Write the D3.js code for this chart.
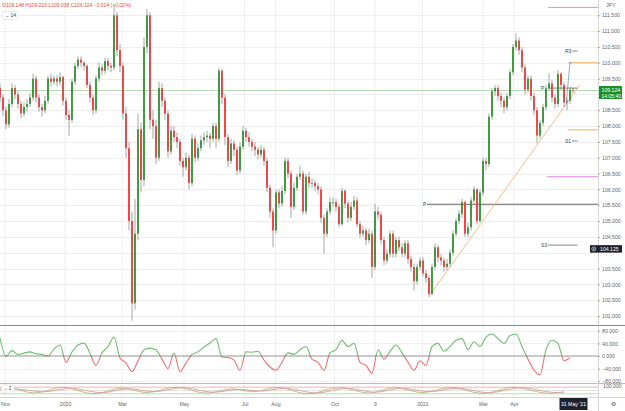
<!DOCTYPE html>
<html><head><meta charset="utf-8">
<script src="https://cdn.jsdelivr.net/npm/d3@7"></script>
<style>body{margin:0;background:#fff;} svg{display:block;font-family:"Liberation Sans",Arial,sans-serif;}</style>
</head><body><svg id="c" width="625" height="411"></svg>
<script>
// ---------- DATA ----------
const firstOpen = 109.2;
const closes = [108.90,108.50,108.05,108.70,109.20,109.00,108.70,108.40,108.60,108.70,
108.90,109.50,108.90,108.60,108.50,108.80,109.50,109.40,109.50,109.40,
109.55,108.80,108.35,108.20,109.40,109.90,110.10,110.00,109.90,109.30,
108.90,108.50,109.50,109.85,109.75,110.05,109.90,109.85,111.50,110.40,
109.90,108.40,107.30,105.00,102.40,104.60,107.90,106.30,110.50,111.50,
108.20,108.00,107.00,109.20,108.80,108.40,107.20,107.85,107.65,107.50,
106.90,106.70,107.00,106.20,107.60,107.00,107.30,107.55,107.65,107.70,
107.60,108.00,107.60,109.75,108.90,107.65,106.90,107.45,107.25,106.60,
107.35,107.85,107.65,107.50,107.35,107.25,107.10,107.25,106.90,106.05,
105.30,104.70,105.90,105.55,105.95,106.90,106.50,105.45,106.05,106.40,
106.50,105.30,106.40,106.20,106.20,106.10,106.00,105.10,104.60,105.30,
105.60,105.60,105.45,104.90,105.95,105.55,105.10,105.45,105.65,104.90,
104.60,104.70,104.40,104.60,103.55,105.30,105.20,104.40,103.75,103.97,
104.60,103.97,104.40,104.17,103.97,104.30,103.80,103.55,103.10,103.55,
103.75,103.35,103.20,102.70,103.55,104.17,103.85,103.75,103.55,103.65,
104.00,104.60,105.00,105.23,105.60,104.60,104.80,105.65,106.00,105.00,
105.90,106.90,106.80,108.30,109.10,109.20,108.95,108.80,108.60,108.95,
109.70,110.50,110.70,110.40,109.85,109.15,109.50,108.95,108.50,107.70,
108.10,108.60,109.20,109.35,108.90,108.70,109.65,109.30,108.75,108.80,
109.148,109.124];
const highs = [109.35,109.00,108.60,108.85,109.35,109.30,109.10,108.80,108.75,108.85,
109.05,109.65,109.60,109.00,108.70,108.95,109.60,109.65,109.60,109.60,
109.70,109.60,108.90,108.50,109.50,110.00,110.20,110.20,110.05,109.95,
109.40,109.00,109.60,110.00,109.95,110.15,110.15,110.00,111.85,111.60,
110.60,110.00,108.60,107.50,105.30,105.70,108.40,108.10,110.80,111.70,
111.60,108.50,108.20,109.40,109.35,108.90,108.50,108.00,108.00,107.80,
107.60,107.00,107.15,107.10,107.75,107.70,107.45,107.70,107.80,107.85,
107.80,108.10,108.10,109.85,109.80,109.00,107.75,107.60,107.55,107.35,
107.50,108.00,107.95,107.80,107.60,107.50,107.35,107.40,107.35,107.00,
106.15,105.40,106.00,106.00,106.10,107.00,107.00,106.60,106.20,106.50,
106.75,106.60,106.50,106.55,106.35,106.30,106.20,106.10,105.20,105.40,
105.75,105.75,105.70,105.55,106.05,106.00,105.65,105.60,105.80,105.75,
105.00,104.85,104.80,104.75,104.70,105.55,105.45,105.30,104.50,104.10,
104.70,104.70,104.50,104.50,104.30,104.40,104.40,103.90,103.65,103.65,
103.85,103.85,103.45,103.30,103.65,104.30,104.25,103.95,103.85,103.80,
104.10,104.70,105.10,105.35,105.70,105.65,104.95,105.75,106.10,106.05,
106.00,107.00,107.00,108.40,109.20,109.30,109.30,109.05,108.90,109.05,
109.80,110.60,110.93,110.80,110.50,109.95,109.60,109.60,109.05,108.60,
108.20,108.70,109.30,109.67,109.45,109.00,109.77,109.70,109.40,108.90,
109.25,109.21];
const lows = [108.75,108.30,107.90,107.95,108.60,108.85,108.55,108.25,108.30,108.45,
108.60,108.80,108.75,108.45,108.30,108.40,108.70,109.25,109.30,109.25,
109.30,108.65,108.20,107.70,108.10,109.30,109.80,109.85,109.75,109.20,
108.75,108.35,108.40,109.40,109.60,109.65,109.75,109.70,109.75,110.20,
109.70,108.20,107.00,104.70,101.85,102.20,104.40,105.90,106.10,110.30,
107.90,107.60,106.80,106.90,108.60,108.20,107.00,107.10,107.50,107.30,
106.75,106.40,106.60,106.00,106.10,106.85,106.90,107.20,107.40,107.50,
107.30,107.50,107.30,107.50,108.70,107.40,106.70,106.80,107.05,106.45,
106.50,107.25,107.50,107.35,107.20,107.05,106.95,107.00,106.75,105.90,
105.10,104.17,104.60,105.40,105.45,105.85,106.35,105.10,105.35,105.95,
106.30,105.20,105.20,106.05,106.05,105.95,105.85,104.95,103.97,104.50,
105.20,105.45,105.30,104.80,104.85,105.40,104.95,105.00,105.35,104.80,
104.45,104.50,104.25,104.30,103.20,103.45,105.05,104.25,103.60,103.65,
103.85,103.85,103.85,104.05,103.85,103.85,103.65,103.40,102.80,103.00,
103.45,103.25,103.05,102.60,102.65,103.45,103.70,103.60,103.40,103.45,
103.55,103.90,104.50,104.90,105.10,104.50,104.50,104.70,105.55,104.90,
104.95,105.80,106.60,106.70,108.20,108.95,108.80,108.60,108.40,108.50,
108.85,109.60,110.40,110.25,109.70,109.00,109.05,108.80,108.35,107.45,
107.60,108.00,108.50,109.10,108.75,108.55,108.60,109.15,108.60,108.50,
108.70,109.038];
// oscillator (one value every 2 candles)
const oscValues = [57,-1,17,5,9,13,7,5,0,22,35,-20,13,35,41,9,-30,10,30,60,
-6,-22,-50,-15,19,25,20,-10,-40,9,-50,-22,5,13,29,41,55,-3,-5,-13,
-45,13,12,15,-13,-35,-45,-20,10,5,20,30,-10,-20,-45,10,20,50,30,40,
-20,-30,-55,20,-10,15,35,10,-20,-45,-15,-30,30,40,15,30,50,55,20,45,
30,60,70,55,40,65,70,30,-10,-45,-60,20,50,40,-15,-5];
const osc3K = [60,80,40,20,50,85,70,30,15,45,80,60,25,40,75,85,50,20,35,70,60,30,55,85,65,25,15,50,80,70,35,20,60,85,55,25,40,75,80,45,20,30,70,85,60,30,20,40];
const osc3D = [55,65,60,40,35,60,75,55,30,30,60,70,45,35,55,80,70,40,30,50,65,50,40,65,75,50,25,30,60,75,55,30,40,70,70,45,35,55,75,65,35,25,50,75,75,50,30,30];
const priceTicks = [102.0,102.5,103.0,103.5,104.0,104.5,105.0,105.5,106.0,106.5,107.0,107.5,108.0,108.5,109.0,109.5,110.0,110.5,111.0,111.5];
const hiddenTicks = [104.0,109.0];
const oscTicks = [80,40,0,-40,-80];
const timeLabels = ["Nov","2020","Mar","May","Jul","Aug","Oct","9","2021","Mar","Apr"];
const timeIdx = [1.7,21.7,40.7,61.3,81.5,91.8,111.5,125,140.8,161,171.3];
const lastDateLabel = "31 May '21";
const pivotNames = ["R3","P","S1","S3"];
const pivotPrices = [110.37,109.2,107.53,104.24];
const pivotLabelIdx = [188.3,180.3,188.3,180.3];
const pivotEndIdx = [192.5,192.5,192.5,192.5];
const bigPivotPrice = 105.53, bigPivotIdx = 141;
const orangeLevels = [110.0,107.88];
const orangeStartIdx = [190,189.3];
const magentaLevels = [111.75,106.4];
const magentaStartIdx = [182.7,182.3];
const trendIdx = [143, 193.3];
const trendPrice = [102.62, 109.3];
const lastPrice = 109.124, lastTime = "14:05:40";
const markerPrice = 104.125;
const legendText = "O109.148 H109.210 L109.038 C109.124 −0.024 (−0.02%)";

// ---------- LAYOUT ----------
const W = 625, H = 411, plotR = 598;
const mainTop = 0, mainBot = 325, oscTop = 326, oscBot = 383, p3Top = 384, p3Bot = 397;
const svg = d3.select("#c");
const x = d3.scaleLinear().domain([0, closes.length - 1]).range([0, 573]);
const y = d3.scaleLinear().domain([101.716, 111.983]).range([mainBot, mainTop]);
const yo = d3.scaleLinear().domain([-85.7, 95.2]).range([oscBot, oscTop]);
const y3 = d3.scaleLinear().domain([0, 100]).range([p3Bot - 1, p3Top + 1]);

const defs = svg.append("defs");
defs.append("clipPath").attr("id","clipMain").append("rect").attr("x",0).attr("y",mainTop).attr("width",plotR).attr("height",mainBot-mainTop);
defs.append("clipPath").attr("id","clipUp").append("rect").attr("x",0).attr("y",oscTop).attr("width",plotR).attr("height",yo(0)-oscTop);
defs.append("clipPath").attr("id","clipDn").append("rect").attr("x",0).attr("y",yo(0)).attr("width",plotR).attr("height",oscBot-yo(0));
defs.append("clipPath").attr("id","clip3").append("rect").attr("x",0).attr("y",p3Top).attr("width",plotR).attr("height",p3Bot-p3Top);

// grid
const grid = svg.append("g");
grid.selectAll("line.v").data(timeIdx).join("line")
  .attr("x1",d=>x(d)).attr("x2",d=>x(d)).attr("y1",0).attr("y2",p3Bot)
  .attr("stroke","#eeeeee").attr("stroke-width",1);
grid.selectAll("line.h").data(priceTicks).join("line")
  .attr("x1",0).attr("x2",plotR).attr("y1",d=>Math.round(y(d))+0.5).attr("y2",d=>Math.round(y(d))+0.5)
  .attr("stroke","#eeeeee");
grid.selectAll("line.ho").data(oscTicks.filter(d=>d!==0)).join("line")
  .attr("x1",0).attr("x2",plotR).attr("y1",d=>Math.round(yo(d))+0.5).attr("y2",d=>Math.round(yo(d))+0.5)
  .attr("stroke","#f0f0f0");

// ---------- MAIN PANEL ----------
const main = svg.append("g").attr("clip-path","url(#clipMain)");
main.append("line").attr("x1",0).attr("x2",plotR).attr("y1",y(lastPrice)).attr("y2",y(lastPrice))
  .attr("stroke","#7cc47c").attr("stroke-width",0.8).attr("opacity",0.7);
main.append("line").attr("x1",x(bigPivotIdx)+4).attr("x2",plotR).attr("y1",y(bigPivotPrice)).attr("y2",y(bigPivotPrice))
  .attr("stroke","#555").attr("stroke-width",0.9);
main.append("text").attr("x",x(bigPivotIdx)).attr("y",y(bigPivotPrice)+1.8).text("P")
  .attr("font-size",5).attr("fill","#444");
main.selectAll("line.or").data(orangeLevels).join("line")
  .attr("x1",(d,i)=>x(orangeStartIdx[i])).attr("x2",plotR).attr("y1",d=>y(d)).attr("y2",d=>y(d))
  .attr("stroke","#f5a54a").attr("stroke-width",0.9);
main.selectAll("line.mg").data(magentaLevels).join("line")
  .attr("x1",(d,i)=>x(magentaStartIdx[i])).attr("x2",plotR).attr("y1",d=>y(d)).attr("y2",d=>y(d))
  .attr("stroke","#e07be0").attr("stroke-width",0.9);
main.append("line").attr("x1",x(trendIdx[0])).attr("y1",y(trendPrice[0])).attr("x2",x(trendIdx[1])).attr("y2",y(trendPrice[1]))
  .attr("stroke","#f7b27a").attr("stroke-width",0.9);

// candles
const opens = closes.map((c,i)=> i===0 ? firstOpen : closes[i-1]);
const candles = closes.map((c,i)=>({i, o:opens[i], h:highs[i], l:lows[i], c}));
main.selectAll("line.wick").data(candles).join("line")
  .attr("x1",d=>x(d.i)).attr("x2",d=>x(d.i)).attr("y1",d=>y(d.h)).attr("y2",d=>y(d.l))
  .attr("stroke","#9c9c9c").attr("stroke-width",0.9);
main.selectAll("rect.body").data(candles).join("rect")
  .attr("x",d=>x(d.i)-0.85).attr("width",1.7)
  .attr("y",d=>y(Math.max(d.o,d.c)))
  .attr("height",d=>Math.max(0.8, Math.abs(y(d.o)-y(d.c))))
  .attr("fill",d=>d.c>=d.o ? "#2a922a" : "#f23232");

pivotNames.forEach((n,i)=>{
  main.append("text").attr("x",x(pivotLabelIdx[i])).attr("y",y(pivotPrices[i])+1.8).text(n)
    .attr("font-size",5).attr("fill","#444");
  main.append("line").attr("x1",x(pivotLabelIdx[i])+7).attr("x2",x(pivotEndIdx[i]))
    .attr("y1",y(pivotPrices[i])).attr("y2",y(pivotPrices[i])).attr("stroke","#666").attr("stroke-width",0.8);
});
main.append("line").attr("x1",x(188.7)).attr("y1",y(108.7)).attr("x2",x(190)).attr("y2",y(orangeLevels[0]))
  .attr("stroke","#7a9ab5").attr("stroke-width",0.8);
main.append("circle").attr("cx",x(190)).attr("cy",y(orangeLevels[0])).attr("r",0.9).attr("fill","none").attr("stroke","#7a9ab5").attr("stroke-width",0.6);

// legend
svg.append("text").attr("x",2).attr("y",6.5).text(legendText).attr("font-size",5).attr("fill","#e5483f");
svg.append("rect").attr("x",2.5).attr("y",11.5).attr("width",15).attr("height",8).attr("rx",1.5)
  .attr("fill","#fff").attr("stroke","#ddd").attr("stroke-width",0.6);
svg.append("text").attr("x",5).attr("y",17.3).text("⌄ 14").attr("font-size",5).attr("fill","#444");

// ---------- OSCILLATOR ----------
const oscLine = d3.line().x((d,j)=>x(2*j)).y(d=>yo(d)).curve(d3.curveMonotoneX);
svg.append("path").attr("d",oscLine(oscValues)).attr("fill","none").attr("stroke","#6cbf6c").attr("stroke-width",1.1).attr("clip-path","url(#clipUp)");
svg.append("path").attr("d",oscLine(oscValues)).attr("fill","none").attr("stroke","#f07070").attr("stroke-width",1.1).attr("clip-path","url(#clipDn)");
svg.append("line").attr("x1",0).attr("x2",plotR).attr("y1",yo(0)).attr("y2",yo(0)).attr("stroke","#777").attr("stroke-width",0.8);

// ---------- THIRD PANEL ----------
const p3 = svg.append("g").attr("clip-path","url(#clip3)");
[[80,"#f2a0a0"],[50,"#dddddd"],[20,"#a8d8a8"]].forEach(([v,c])=>{
  p3.append("line").attr("x1",0).attr("x2",plotR).attr("y1",y3(v)).attr("y2",y3(v)).attr("stroke",c).attr("stroke-width",0.8);
});
const l3 = d3.line().x((d,j)=>x(4*j)).y(d=>y3(d)).curve(d3.curveBasis);
p3.append("path").attr("d",l3(osc3K)).attr("fill","none").attr("stroke","#bdb57a").attr("stroke-width",0.9);
p3.append("path").attr("d",l3(osc3D)).attr("fill","none").attr("stroke","#d9a0a0").attr("stroke-width",0.9);
svg.append("rect").attr("x",1.5).attr("y",385).attr("width",13).attr("height",7).attr("rx",1.5)
  .attr("fill","#fff").attr("stroke","#ddd").attr("stroke-width",0.6);
svg.append("text").attr("x",3.5).attr("y",390.3).text("⌄ 2").attr("font-size",4.6).attr("fill","#444");

[[mainBot+0.5,"#888",1.2],[oscBot+0.5,"#aaa",0.8],[p3Bot+0.5,"#ccc",0.8]].forEach(([yy,c,w])=>{
  svg.append("line").attr("x1",0).attr("x2",W).attr("y1",yy).attr("y2",yy).attr("stroke",c).attr("stroke-width",w);
});
svg.append("line").attr("x1",plotR+0.5).attr("x2",plotR+0.5).attr("y1",0).attr("y2",H).attr("stroke","#cccccc").attr("stroke-width",0.8);

// ---------- AXES ----------
const axStyle = g => { g.select(".domain").remove(); g.selectAll("text").attr("font-size",5.2).attr("fill","#666"); g.selectAll("line").attr("stroke","#aaa"); };
svg.append("g").attr("transform",`translate(${plotR},0)`)
  .call(d3.axisRight(y).tickValues(priceTicks.filter(t=>!hiddenTicks.includes(t))).tickFormat(d3.format(".3f")).tickSize(2).tickPadding(2))
  .call(axStyle);
svg.append("g").attr("transform",`translate(${plotR},0)`)
  .call(d3.axisRight(yo).tickValues(oscTicks).tickFormat(d3.format(".3f")).tickSize(2).tickPadding(2))
  .call(axStyle);
svg.append("text").attr("x",603).attr("y",388).text("100.000").attr("font-size",5.2).attr("fill","#666");
svg.append("g").attr("transform",`translate(0,${p3Bot})`)
  .call(d3.axisBottom(x).tickValues(timeIdx).tickFormat((d,i)=>timeLabels[i]).tickSize(0).tickPadding(5))
  .call(axStyle);
svg.append("text").attr("x",606).attr("y",7).text("JPY").attr("font-size",5.2).attr("fill","#666");

const lp = y(lastPrice);
svg.append("rect").attr("x",599).attr("y",lp-4.5).attr("width",23).attr("height",13).attr("fill","#1f8f24");
svg.append("text").attr("x",601.5).attr("y",lp+1.8).text(d3.format(".3f")(lastPrice)).attr("font-size",5.2).attr("fill","#fff");
svg.append("text").attr("x",601.5).attr("y",lp+7.5).text(lastTime).attr("font-size",5).attr("fill","#fff");
const mp = y(markerPrice);
svg.append("rect").attr("x",590).attr("y",mp-3.6).attr("width",32).attr("height",7.5).attr("fill","#1e222d");
svg.append("circle").attr("cx",593.8).attr("cy",mp+0.2).attr("r",2).attr("fill","none").attr("stroke","#fff").attr("stroke-width",0.6);
svg.append("circle").attr("cx",593.8).attr("cy",mp+0.2).attr("r",0.7).attr("fill","#fff");
svg.append("text").attr("x",600).attr("y",mp+2).text(d3.format(".3f")(markerPrice)).attr("font-size",5.2).attr("fill","#fff");
svg.append("rect").attr("x",x(closes.length-1)-13.5).attr("y",398).attr("width",28).attr("height",12).attr("fill","#1e222d");
svg.append("text").attr("x",x(closes.length-1)+0.5).attr("y",405.8).attr("text-anchor","middle").text(lastDateLabel).attr("font-size",5.2).attr("fill","#fff");
svg.append("text").attr("x",611).attr("y",406).text("⚙").attr("font-size",5.5).attr("fill","#666");
</script></body></html>
